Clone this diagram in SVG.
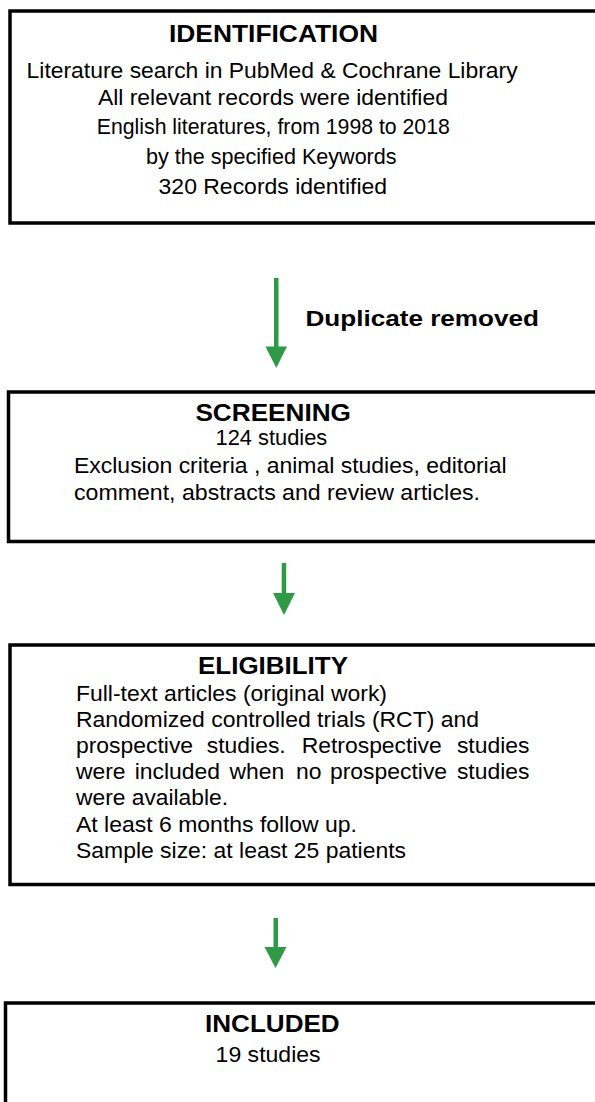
<svg xmlns="http://www.w3.org/2000/svg" width="595" height="1102" viewBox="0 0 595 1102">
<style>
.box{fill:#ffffff;stroke:#000000;stroke-width:3.5}
.t{font-family:"Liberation Sans",Arial,sans-serif;fill:#000000}
.h{font-size:24.5px;font-weight:bold}
.b{font-size:21.5px}
.arr{fill:#2f9a46}
</style>
<rect width="595" height="1102" fill="#ffffff"/>
<g id="identification">
<rect class="box" x="10" y="11" width="600" height="212"/>
<text class="t h" x="169" y="42" textLength="209" lengthAdjust="spacingAndGlyphs">IDENTIFICATION</text>
<text class="t b" x="26.6" y="78" textLength="491" lengthAdjust="spacingAndGlyphs">Literature search in PubMed &amp; Cochrane Library</text>
<text class="t b" x="97.9" y="105" textLength="350" lengthAdjust="spacingAndGlyphs">All relevant records were identified</text>
<text class="t b" x="96.8" y="134" textLength="353" lengthAdjust="spacingAndGlyphs">English literatures, from 1998 to 2018</text>
<text class="t b" x="146" y="164" textLength="250.6" lengthAdjust="spacingAndGlyphs">by the specified Keywords</text>
<text class="t b" x="158.6" y="194" textLength="228.5" lengthAdjust="spacingAndGlyphs">320 Records identified</text>
</g>
<g id="screening">
<rect class="box" x="8.5" y="392" width="600" height="149.5"/>
<text class="t h" x="195.4" y="421" textLength="155.6" lengthAdjust="spacingAndGlyphs">SCREENING</text>
<text class="t b" x="215.6" y="445" textLength="111.6" lengthAdjust="spacingAndGlyphs">124 studies</text>
<text class="t b" x="74" y="473" textLength="432.6" lengthAdjust="spacingAndGlyphs">Exclusion criteria , animal studies, editorial</text>
<text class="t b" x="74" y="500" textLength="406" lengthAdjust="spacingAndGlyphs">comment, abstracts and review articles.</text>
</g>
<g id="eligibility">
<rect class="box" x="10" y="645" width="600" height="239.5"/>
<text class="t h" x="198" y="674" textLength="150" lengthAdjust="spacingAndGlyphs">ELIGIBILITY</text>
<text class="t b" x="76" y="701" textLength="311" lengthAdjust="spacingAndGlyphs">Full-text articles (original work)</text>
<text class="t b" x="76" y="727" textLength="403" lengthAdjust="spacingAndGlyphs">Randomized controlled trials (RCT) and</text>
<text class="t b" y="753"><tspan x="76" textLength="117.1" lengthAdjust="spacingAndGlyphs">prospective</tspan> <tspan x="206.8" textLength="78.9" lengthAdjust="spacingAndGlyphs">studies.</tspan> <tspan x="301.7" textLength="140" lengthAdjust="spacingAndGlyphs">Retrospective</tspan> <tspan x="456.9" textLength="72.5" lengthAdjust="spacingAndGlyphs">studies</tspan></text>
<text class="t b" y="779"><tspan x="76" textLength="49.6" lengthAdjust="spacingAndGlyphs">were</tspan> <tspan x="134.7" textLength="85.3" lengthAdjust="spacingAndGlyphs">included</tspan> <tspan x="229.6" textLength="54.7" lengthAdjust="spacingAndGlyphs">when</tspan> <tspan x="296" textLength="25.5" lengthAdjust="spacingAndGlyphs">no</tspan> <tspan x="330" textLength="117.1" lengthAdjust="spacingAndGlyphs">prospective</tspan> <tspan x="456.9" textLength="72.5" lengthAdjust="spacingAndGlyphs">studies</tspan></text>
<text class="t b" x="76" y="805" textLength="152" lengthAdjust="spacingAndGlyphs">were available.</text>
<text class="t b" x="76" y="832" textLength="281" lengthAdjust="spacingAndGlyphs">At least 6 months follow up.</text>
<text class="t b" x="76" y="858" textLength="330" lengthAdjust="spacingAndGlyphs">Sample size: at least 25 patients</text>
</g>
<g id="included">
<rect class="box" x="5.5" y="1003" width="600" height="110"/>
<text class="t h" x="205" y="1032" textLength="134.7" lengthAdjust="spacingAndGlyphs">INCLUDED</text>
<text class="t b" x="215.6" y="1062" textLength="105" lengthAdjust="spacingAndGlyphs">19 studies</text>
</g>
<g id="connectors">
<rect class="arr" x="274" y="278" width="4.5" height="69"/>
<polygon class="arr" points="265.5,346.5 287,346.5 276.3,368"/>
<text class="t" x="305.5" y="326" font-size="22.5" font-weight="bold" textLength="233.5" lengthAdjust="spacingAndGlyphs">Duplicate removed</text>
<rect class="arr" x="281.7" y="563" width="4.5" height="31"/>
<polygon class="arr" points="273,593 295,593 284,615"/>
<rect class="arr" x="273.5" y="918" width="4.5" height="30"/>
<polygon class="arr" points="264.5,947 286.5,947 275.5,968"/>
</g>
</svg>
